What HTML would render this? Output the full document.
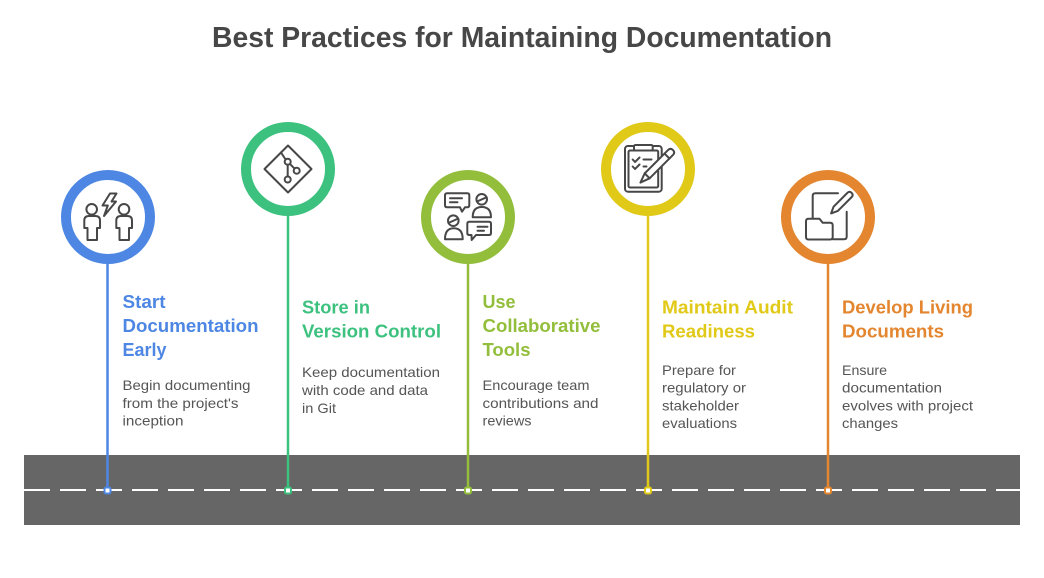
<!DOCTYPE html>
<html>
<head>
<meta charset="utf-8">
<style>
  html,body{margin:0;padding:0;background:#ffffff;}
  body{width:1044px;height:578px;overflow:hidden;}
  svg{display:block;}
  .t{font-family:"Liberation Sans",Arial,sans-serif;}
  .h{font-family:"Liberation Sans",Arial,sans-serif;font-weight:bold;font-size:18px;}
  .b{font-family:"Liberation Sans",Arial,sans-serif;font-size:14px;fill:#555555;}
  .ic{fill:none;stroke:#474747;stroke-width:2;stroke-linejoin:round;stroke-linecap:round;}
</style>
</head>
<body>
<svg width="1044" height="578" viewBox="0 0 1044 578" xmlns="http://www.w3.org/2000/svg">
  <!-- Title -->
  <text class="t" x="212" y="47" font-size="29" font-weight="bold" fill="#474747" textLength="620" lengthAdjust="spacingAndGlyphs">Best Practices for Maintaining Documentation</text>

  <!-- Road -->
  <rect x="24" y="455" width="996" height="70" fill="#666666"/>
  <line x1="24" y1="490" x2="1020" y2="490" stroke="#ffffff" stroke-width="2" stroke-dasharray="26 10"/>

  <!-- Connectors -->
  <line x1="107.5" y1="262" x2="107.5" y2="490" stroke="#4d87e3" stroke-width="2.5"/>
  <line x1="288" y1="214" x2="288" y2="490" stroke="#3dc17f" stroke-width="2.5"/>
  <line x1="468" y1="262" x2="468" y2="490" stroke="#93be3b" stroke-width="2.5"/>
  <line x1="648" y1="214" x2="648" y2="490" stroke="#e1c918" stroke-width="2.5"/>
  <line x1="828" y1="262" x2="828" y2="490" stroke="#e3862f" stroke-width="2.5"/>

  <!-- Dots -->
  <rect x="104.5" y="487.5" width="6" height="6" rx="1.5" fill="#fff" stroke="#4d87e3" stroke-width="2"/>
  <rect x="285" y="487.5" width="6" height="6" rx="1.5" fill="#fff" stroke="#3dc17f" stroke-width="2"/>
  <rect x="465" y="487.5" width="6" height="6" rx="1.5" fill="#fff" stroke="#93be3b" stroke-width="2"/>
  <rect x="645" y="487.5" width="6" height="6" rx="1.5" fill="#fff" stroke="#e1c918" stroke-width="2"/>
  <rect x="825" y="487.5" width="6" height="6" rx="1.5" fill="#fff" stroke="#e3862f" stroke-width="2"/>

  <!-- Circles -->
  <circle cx="108" cy="217" r="42" fill="#fff" stroke="#4d87e3" stroke-width="10"/>
  <circle cx="288" cy="169" r="42" fill="#fff" stroke="#3dc17f" stroke-width="10"/>
  <circle cx="468" cy="217" r="42" fill="#fff" stroke="#93be3b" stroke-width="10"/>
  <circle cx="648" cy="169" r="42" fill="#fff" stroke="#e1c918" stroke-width="10"/>
  <circle cx="828" cy="217" r="42" fill="#fff" stroke="#e3862f" stroke-width="10"/>

  <!-- Icon 1: two people + bolt -->
  <g class="ic">
    <circle cx="91.7" cy="209.3" r="5.3"/>
    <path d="M84.3,228 V220.5 Q84.3,216 89,216 H95.3 Q100,216 100,220.5 V228 H97 V240 H87.5 V228 Z"/>
    <circle cx="124" cy="209.3" r="5.3"/>
    <path d="M116.3,228 V220.5 Q116.3,216 121,216 H127.3 Q132,216 132,220.5 V228 H129 V240 H119.5 V228 Z"/>
    <path d="M110,193.5 H116.5 L111.5,201.5 H116 L104,216 L107.8,205.5 H102.5 Z"/>
  </g>

  <!-- Icon 2: git diamond -->
  <g class="ic">
    <path d="M288,145.5 L311.5,169 L288,192.5 L264.5,169 Z"/>
    <circle cx="287.7" cy="161.7" r="3"/>
    <circle cx="296.7" cy="170.7" r="3"/>
    <circle cx="287.7" cy="179.5" r="3"/>
    <line x1="281" y1="152.5" x2="285.6" y2="159.5"/>
    <line x1="287.7" y1="164.7" x2="287.7" y2="176.5"/>
    <line x1="289.9" y1="163.9" x2="294.5" y2="168.5"/>
  </g>

  <!-- Icon 3: collaboration -->
  <g class="ic">
    <path d="M447,193.3 H467.3 Q469.3,193.3 469.3,195.3 V205.3 Q469.3,207.3 467.3,207.3 H465 L462,211.7 L460,207.3 H447 Q445,207.3 445,205.3 V195.3 Q445,193.3 447,193.3 Z"/>
    <line x1="450" y1="198.3" x2="462" y2="198.3"/>
    <line x1="450" y1="202.3" x2="457.5" y2="202.3"/>
    <circle cx="481.7" cy="199.3" r="5.3"/>
    <line x1="477" y1="201.5" x2="486.5" y2="197.3"/>
    <path d="M472.7,217.3 Q472.7,207 481.8,207 Q491,207 491,217.3 Z"/>
    <circle cx="453.3" cy="220.7" r="5.3"/>
    <line x1="448.6" y1="222.9" x2="458" y2="218.6"/>
    <path d="M445,239.3 Q445,228.3 453.8,228.3 Q462.7,228.3 462.7,239.3 Z"/>
    <path d="M469.3,221.7 H489 Q491,221.7 491,223.7 V233 Q491,235 489,235 H476 L471.7,240 L471.5,235 H469.3 Q467.3,235 467.3,233 V223.7 Q467.3,221.7 469.3,221.7 Z"/>
    <line x1="477.5" y1="226.7" x2="487.5" y2="226.7"/>
    <line x1="477.5" y1="230.7" x2="484" y2="230.7"/>
  </g>

  <!-- Icon 4: clipboard + pencil -->
  <g class="ic">
    <rect x="625" y="146" width="36.7" height="45.7" rx="3"/>
    <rect x="628.5" y="150.5" width="29.7" height="37" rx="1.5"/>
    <rect x="634" y="145" width="18.7" height="5.5" rx="1.5" fill="#fff"/>
    <polyline points="632.7,159.5 635,162 639.5,157.5"/>
    <polyline points="632.7,166.5 635,169 639.5,164.5"/>
    <line x1="643.5" y1="159.5" x2="651.5" y2="159.5"/>
    <line x1="643.5" y1="166.5" x2="646.5" y2="166.5"/>
    <g transform="translate(670.5,152.5) rotate(135)">
      <path d="M0,-3.5 H33 L42.5,0 L33,3.5 H0 Q-3.5,3.5 -3.5,0 Q-3.5,-3.5 0,-3.5 Z" fill="#fff"/>
      <line x1="33" y1="-3.5" x2="33" y2="3.5"/>
      <line x1="5" y1="-3.5" x2="5" y2="3.5"/>
    </g>
  </g>

  <!-- Icon 5: document + folder + pencil -->
  <g class="ic">
    <path d="M838,193.3 H815.5 Q812.7,193.3 812.7,196 V218.3"/>
    <path d="M846.7,211.7 V236.5 Q846.7,239.3 844,239.3 H832.7"/>
    <path d="M808.5,218.8 H819.5 L822.7,222.7 H830.2 Q832.7,222.7 832.7,225.2 V237 Q832.7,239.5 830.2,239.5 H808.5 Q806,239.5 806,237 V221.3 Q806,218.8 808.5,218.8 Z"/>
    <g transform="translate(849.5,195) rotate(135)">
      <path d="M0,-3 H19.5 L26,0 L19.5,3 H0 Q-3,3 -3,0 Q-3,-3 0,-3 Z" fill="#fff"/>
    </g>
  </g>

  <!-- Column 1 -->
  <g fill="#4d87e3" class="h">
    <text x="122.5" y="308" textLength="43" lengthAdjust="spacingAndGlyphs">Start</text>
    <text x="122.5" y="332" textLength="136" lengthAdjust="spacingAndGlyphs">Documentation</text>
    <text x="122.5" y="356" textLength="44" lengthAdjust="spacingAndGlyphs">Early</text>
  </g>
  <g class="b">
    <text x="122.5" y="390" textLength="128" lengthAdjust="spacingAndGlyphs">Begin documenting</text>
    <text x="122.5" y="408" textLength="116" lengthAdjust="spacingAndGlyphs">from the project's</text>
    <text x="122.5" y="425.5" textLength="61" lengthAdjust="spacingAndGlyphs">inception</text>
  </g>

  <!-- Column 2 -->
  <g fill="#3dc17f" class="h">
    <text x="302" y="313.5" textLength="68" lengthAdjust="spacingAndGlyphs">Store in</text>
    <text x="302" y="337.5" textLength="139" lengthAdjust="spacingAndGlyphs">Version Control</text>
  </g>
  <g class="b">
    <text x="302" y="377" textLength="138" lengthAdjust="spacingAndGlyphs">Keep documentation</text>
    <text x="302" y="395" textLength="126" lengthAdjust="spacingAndGlyphs">with code and data</text>
    <text x="302" y="413" textLength="34" lengthAdjust="spacingAndGlyphs">in Git</text>
  </g>

  <!-- Column 3 -->
  <g fill="#93be3b" class="h">
    <text x="482.5" y="308" textLength="33" lengthAdjust="spacingAndGlyphs">Use</text>
    <text x="482.5" y="332" textLength="118" lengthAdjust="spacingAndGlyphs">Collaborative</text>
    <text x="482.5" y="356" textLength="48" lengthAdjust="spacingAndGlyphs">Tools</text>
  </g>
  <g class="b">
    <text x="482.5" y="390" textLength="107" lengthAdjust="spacingAndGlyphs">Encourage team</text>
    <text x="482.5" y="408" textLength="116" lengthAdjust="spacingAndGlyphs">contributions and</text>
    <text x="482.5" y="425.5" textLength="49" lengthAdjust="spacingAndGlyphs">reviews</text>
  </g>

  <!-- Column 4 -->
  <g fill="#e1c918" class="h">
    <text x="662" y="313.5" textLength="131" lengthAdjust="spacingAndGlyphs">Maintain Audit</text>
    <text x="662" y="337.5" textLength="93" lengthAdjust="spacingAndGlyphs">Readiness</text>
  </g>
  <g class="b">
    <text x="662" y="375" textLength="74" lengthAdjust="spacingAndGlyphs">Prepare for</text>
    <text x="662" y="392.5" textLength="84" lengthAdjust="spacingAndGlyphs">regulatory or</text>
    <text x="662" y="410.5" textLength="77" lengthAdjust="spacingAndGlyphs">stakeholder</text>
    <text x="662" y="428" textLength="75" lengthAdjust="spacingAndGlyphs">evaluations</text>
  </g>

  <!-- Column 5 -->
  <g fill="#e3862f" class="h">
    <text x="842" y="313.5" textLength="131" lengthAdjust="spacingAndGlyphs">Develop Living</text>
    <text x="842" y="337.5" textLength="102" lengthAdjust="spacingAndGlyphs">Documents</text>
  </g>
  <g class="b">
    <text x="842" y="375" textLength="45" lengthAdjust="spacingAndGlyphs">Ensure</text>
    <text x="842" y="392.5" textLength="100" lengthAdjust="spacingAndGlyphs">documentation</text>
    <text x="842" y="410.5" textLength="131" lengthAdjust="spacingAndGlyphs">evolves with project</text>
    <text x="842" y="428" textLength="56" lengthAdjust="spacingAndGlyphs">changes</text>
  </g>
</svg>
</body>
</html>
